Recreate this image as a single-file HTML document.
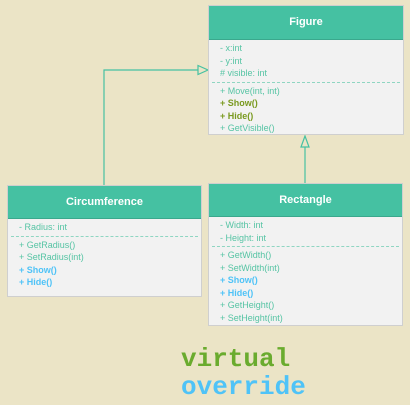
<!DOCTYPE html>
<html><head><meta charset="utf-8"><style>
body{margin:0;width:410px;height:405px;background:#ebe4c6;position:relative;overflow:hidden;font-family:"Liberation Sans",sans-serif}
.box{position:absolute;background:#f2f2f2;border:1px solid #cfcfcf;box-sizing:border-box}
.hd{background:#45c1a2;color:#fff;font-weight:bold;font-size:11px;text-align:center;border-bottom:1px solid #3aa88d}
.sec{padding:2px 0 0 11px;font-size:9px;line-height:12.5px;color:#56c4a4}
.dash{border-top:1px dashed #8fd6c2;margin:2px 3px}
.g{color:#7a9a20;font-weight:bold}
.b{color:#4fc3f7;font-weight:bold}
.m{position:absolute;font-family:"Liberation Mono",monospace;font-weight:bold;font-size:26px;line-height:28px}
</style></head><body>
<svg style="position:absolute;left:0;top:0" width="410" height="405">
<polyline points="104,185 104,70 198,70" fill="none" stroke="#45c1a2" stroke-width="1.2"/>
<polygon points="198,65.5 208,70 198,74.5" fill="#ebe4c6" stroke="#45c1a2" stroke-width="1.2"/>
<line x1="305" y1="183" x2="305" y2="147" stroke="#45c1a2" stroke-width="1.2"/>
<polygon points="301,147 305,136 309,147" fill="#ebe4c6" stroke="#45c1a2" stroke-width="1.2"/>
</svg>
<div class="box" style="left:208px;top:5px;width:196px;height:130px">
<div class="hd" style="height:33px;line-height:33px">Figure</div>
<div class="sec">- x:int<br>- y:int<br># visible: int</div>
<div class="dash"></div>
<div class="sec" style="padding-top:0">+ Move(int, int)<br><span class="g">+ Show()</span><br><span class="g">+ Hide()</span><br>+ GetVisible()</div>
</div>
<div class="box" style="left:7px;top:185px;width:195px;height:112px">
<div class="hd" style="height:32px;line-height:32px">Circumference</div>
<div class="sec">- Radius: int</div>
<div class="dash"></div>
<div class="sec" style="padding-top:0">+ GetRadius()<br>+ SetRadius(int)<br><span class="b">+ Show()</span><br><span class="b">+ Hide()</span></div>
</div>
<div class="box" style="left:208px;top:183px;width:195px;height:143px">
<div class="hd" style="height:32px;line-height:32px">Rectangle</div>
<div class="sec">- Width: int<br>- Height: int</div>
<div class="dash"></div>
<div class="sec" style="padding-top:0">+ GetWidth()<br>+ SetWidth(int)<br><span class="b">+ Show()</span><br><span class="b">+ Hide()</span><br>+ GetHeight()<br>+ SetHeight(int)</div>
</div>
<div class="m" style="left:181px;top:345px;color:#6aab2e">virtual</div>
<div class="m" style="left:181px;top:373px;color:#4fc3f7">override</div>
</body></html>
